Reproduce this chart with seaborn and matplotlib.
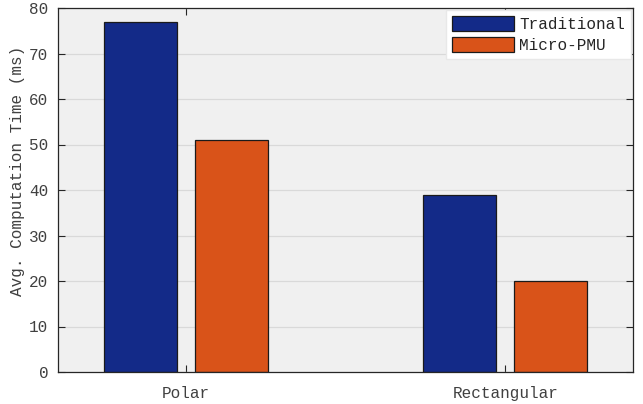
import matplotlib
matplotlib.use("Agg")
import matplotlib.pyplot as plt
import seaborn as sns
import pandas as pd

categories = ["Polar", "Rectangular"]
traditional = [77, 39]
micro_pmu = [51, 20]
series_names = ["Traditional", "Micro-PMU"]
colors = ["#132a88", "#d95319"]

df = pd.DataFrame({
    "cat": categories * 2,
    "val": traditional + micro_pmu,
    "series": [series_names[0]] * len(categories) + [series_names[1]] * len(categories),
})

sns.set_theme(style="ticks")
plt.rcParams["font.family"] = ["Liberation Mono", "DejaVu Sans"]
plt.rcParams["font.size"] = 11.5

fig = plt.figure(figsize=(6.43, 4.04), dpi=100)
ax = fig.add_axes([58 / 643, 1 - 372 / 404, (633 - 58) / 643, (372 - 8) / 404])
ax.set_facecolor("#f0f0f0")
ax.set_axisbelow(True)
ax.yaxis.grid(True, color="#d9d9d9", linewidth=0.9)

sns.barplot(data=df, x="cat", y="val", hue="series", palette=colors,
            width=0.571, gap=0.2, edgecolor="#1a1a1a", linewidth=0.9,
            saturation=1, ax=ax)

ax.set_xlim(-0.4, 1.4)
ax.set_ylim(0, 80)
ax.set_yticks(range(0, 81, 10))
ax.set_xlabel("")
ax.set_ylabel("Avg. Computation Time (ms)", fontsize=11.5, color="#404040")
ax.yaxis.set_label_coords(-0.058, 0.552)
ax.tick_params(axis="both", direction="in", top=True, right=True, length=5, width=0.8,
               labelsize=11.5, colors="#262626", labelcolor="#404040")
ax.tick_params(axis="x", pad=10)
ax.tick_params(axis="y", pad=7)
for s in ax.spines.values():
    s.set_color("#262626")
    s.set_linewidth(0.9)

leg = ax.legend(loc="upper right", fontsize=11.5, frameon=True, fancybox=False,
                handlelength=3.9, handleheight=1.1, handletextpad=0.3,
                borderpad=0.35, labelspacing=0.3, borderaxespad=0.15)
leg.get_frame().set_facecolor("white")
leg.get_frame().set_edgecolor("#e8e8e8")
leg.get_frame().set_alpha(1)

fig.savefig("out.png", dpi=100)
